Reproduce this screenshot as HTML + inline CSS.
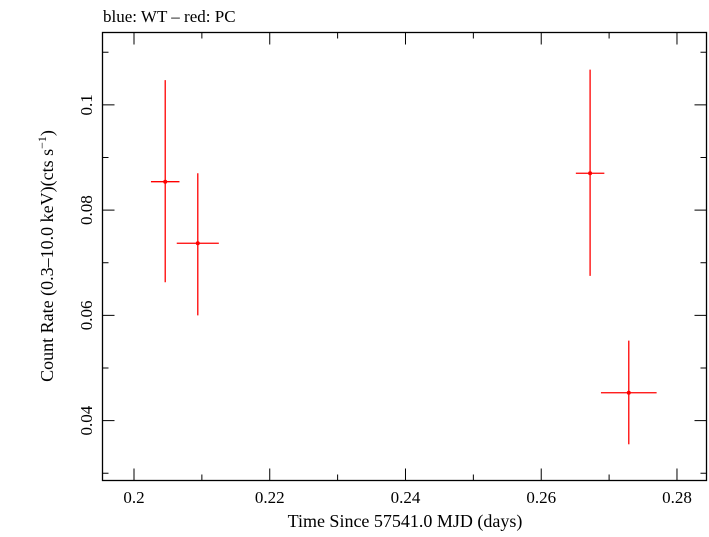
<!DOCTYPE html>
<html><head><meta charset="utf-8"><style>
body{margin:0;background:#fff}
svg text{font-family:"Liberation Serif",serif;fill:#000}
</style></head><body>
<svg id="c" width="709" height="532" xmlns="http://www.w3.org/2000/svg">
<text x="103" y="22" font-size="17">blue: WT – red: PC</text>
<rect x="102.5" y="32.5" width="604" height="448" fill="none" stroke="#000" stroke-width="1.3"/>
<g id="ticks"></g>
<g id="marks"></g>
<text x="405" y="527" font-size="18" text-anchor="middle">Time Since 57541.0 MJD (days)</text>
<text transform="translate(53,256) rotate(-90)" font-size="18" text-anchor="middle">Count Rate (0.3–10.0 keV)(cts s<tspan baseline-shift="super" font-size="12">−1</tspan>)</text>
</svg>
<script>
const xs=[0.2046,0.2094,0.2672,0.2729];
const xerr=[0.0021,0.0031,0.0021,0.0041];
const ys=[0.0854,0.0737,0.0870,0.0453];
const yhi=[0.1047,0.0870,0.1067,0.0552];
const ylo=[0.0663,0.0600,0.0675,0.0355];
const xTicks=[0.2,0.22,0.24,0.26,0.28];
const xTickLabels=["0.2","0.22","0.24","0.26","0.28"];
const yTicks=[0.04,0.06,0.08,0.1];
const yTickLabels=["0.04","0.06","0.08","0.1"];
const L=102.5,R=706.5,T=32.5,B=480.5;
const x0=0.19536,x1=0.28435,y0=0.02862,y1=0.11375;
const X=v=>L+(v-x0)/(x1-x0)*(R-L);
const Y=v=>B-(v-y0)/(y1-y0)*(B-T);
const NS="http://www.w3.org/2000/svg";
function mk(t,a,p){const e=document.createElementNS(NS,t);for(const k in a)e.setAttribute(k,a[k]);p.appendChild(e);return e;}
const tg=document.getElementById('ticks'),mg=document.getElementById('marks');
for(let k=20;k<=28;k++){const v=k/100;const len=(k%2===0)?12:6;const x=X(v);
let e=mk('line',{x1:x,x2:x,y1:B,y2:B-len,stroke:'#000','stroke-width':1},tg);
e=mk('line',{x1:x,x2:x,y1:T,y2:T+len,stroke:'#000','stroke-width':1},tg);}
for(let k=3;k<=11;k++){const v=k/100;const len=(k%2===0)?12:6;const y=Y(v);
let e=mk('line',{x1:L,x2:L+len,y1:y,y2:y,stroke:'#000','stroke-width':1},tg);
e=mk('line',{x1:R,x2:R-len,y1:y,y2:y,stroke:'#000','stroke-width':1},tg);}
xTicks.forEach((v,i)=>{const t=mk('text',{x:X(v),y:503,'font-size':17,'text-anchor':'middle'},tg);t.textContent=xTickLabels[i];
});
yTicks.forEach((v,i)=>{const t=mk('text',{transform:`translate(92,${Y(v)}) rotate(-90)`,'font-size':17,'text-anchor':'middle'},tg);t.textContent=yTickLabels[i];
});
xs.forEach((v,i)=>{const g=mk('g',{},mg);
mk('line',{x1:X(v-xerr[i]),x2:X(v+xerr[i]),y1:Y(ys[i]),y2:Y(ys[i]),stroke:'#f00','stroke-width':1.3},g);
mk('line',{x1:X(v),x2:X(v),y1:Y(yhi[i]),y2:Y(ylo[i]),stroke:'#f00','stroke-width':1.3},g);
mk('circle',{cx:X(v),cy:Y(ys[i]),r:2,fill:'#f00'},g);});
</script>
</body></html>
